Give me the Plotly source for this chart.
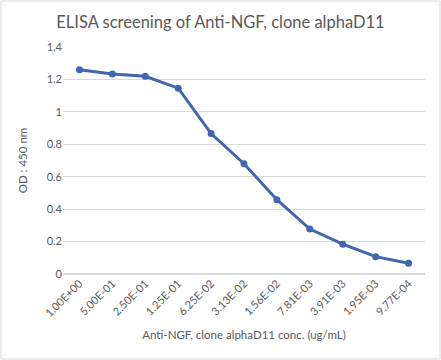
import plotly.graph_objects as go

categories = ["1.00E+00", "5.00E-01", "2.50E-01", "1.25E-01", "6.25E-02", "3.13E-02",
              "1.56E-02", "7.81E-03", "3.91E-03", "1.95E-03", "9.77E-04"]
od_values = [1.26, 1.233, 1.219, 1.146, 0.866, 0.680, 0.458, 0.277, 0.184, 0.107, 0.066]
y_ticks = [0, 0.2, 0.4, 0.6, 0.8, 1, 1.2, 1.4]

font_family = "Lato, 'Open Sans', sans-serif"
gray = "#595959"

fig = go.Figure()
fig.add_trace(go.Scatter(
    x=categories, y=od_values, mode="lines+markers",
    line=dict(color="#3F67AE", width=3),
    marker=dict(color="#3F67AE", size=7),
    showlegend=False,
))

fig.update_layout(
    width=441, height=360,
    margin=dict(l=63, r=16, t=47, b=86),
    paper_bgcolor="white", plot_bgcolor="white",
    font=dict(family=font_family, color=gray, size=11),
    title=dict(text="ELISA screening of Anti-NGF, clone alphaD11",
               x=0.5, xanchor="center", y=0.937, yanchor="middle",
               font=dict(size=16.5, color=gray, family=font_family)),
    xaxis=dict(
        type="category", tickangle=-45, showgrid=False, showline=False, automargin=False,
        ticks="", tickfont=dict(size=11, color=gray),
        title=dict(text="Anti-NGF, clone alphaD11 conc. (ug/mL)", font=dict(size=11.5, color=gray), standoff=12),
        range=[-0.5, 10.5],
    ),
    yaxis=dict(
        range=[0, 1.4], tickvals=y_ticks, ticktext=["0", "0.2", "0.4", "0.6", "0.8", "1", "1.2", "1.4"],
        showgrid=True, gridcolor="#D9D9D9", gridwidth=1, zeroline=True, zerolinecolor="#D9D9D9",
        showline=False, ticks="", ticklen=0, tickfont=dict(size=11, color=gray), automargin=False,
        title=dict(text="OD : 450 nm", font=dict(size=11.5, color=gray), standoff=16),
    ),
    shapes=[dict(type="rect", xref="paper", yref="paper", x0=-62/362, x1=1+15/362,
                 y0=-85/227, y1=1+46/227, line=dict(color="#D9D9D9", width=1))],
)

fig.write_html("out.html", config={"displayModeBar": False},
               post_script="document.body.style.margin='0';")
